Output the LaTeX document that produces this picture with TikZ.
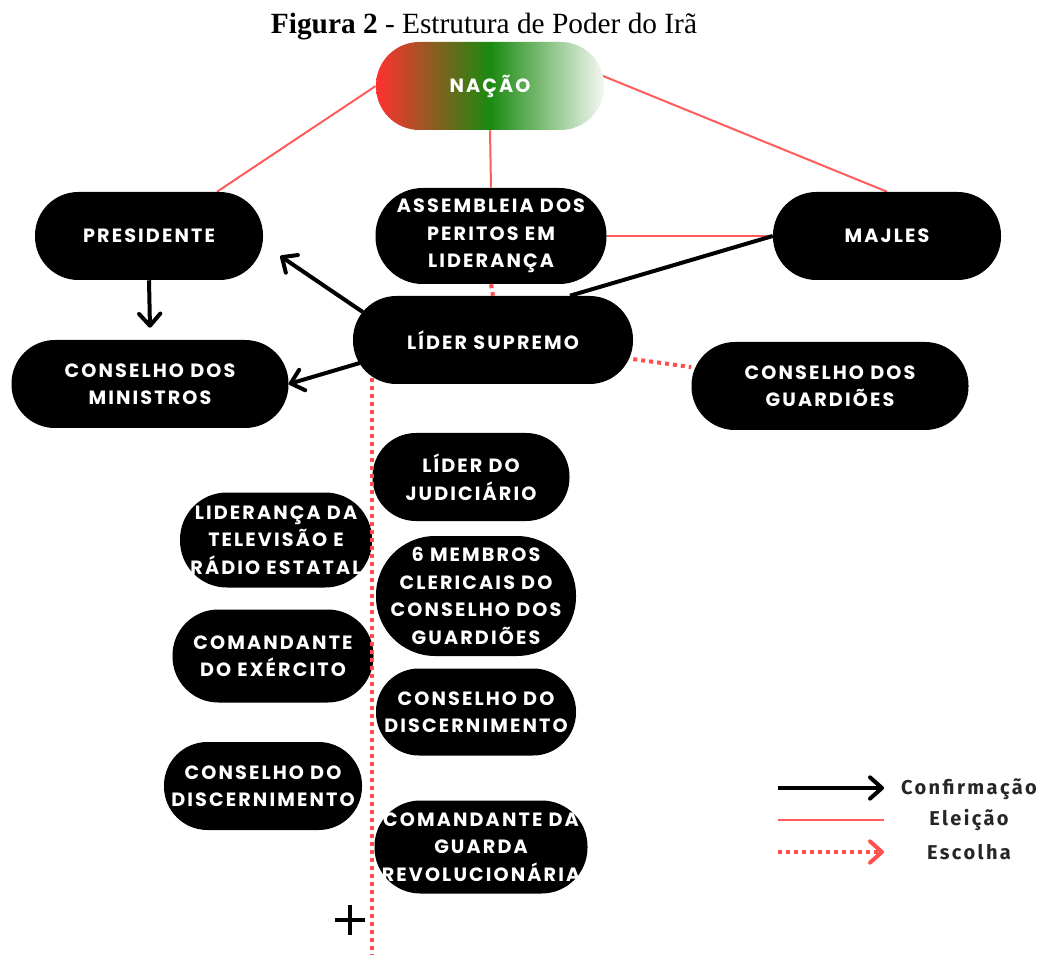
\documentclass[tikz,border=0pt]{standalone}
\usepackage{fontspec}
\setmainfont{Liberation Serif}
\newfontfamily\boxfont[LetterSpace=11]{Poppins}
\newfontfamily\legfont[LetterSpace=12]{Fira Sans}
\usetikzlibrary{arrows.meta,backgrounds}
\definecolor{elecred}{RGB}{255,92,92}
\definecolor{dotred}{RGB}{255,80,80}
\definecolor{nred}{RGB}{255,48,48}
\definecolor{ngreen}{RGB}{26,138,16}
\definecolor{nwhite}{RGB}{244,248,242}
\tikzset{
  pill/.style 2 args={fill=black, text=white, font=\boxfont\bfseries\fontsize{14.4}{20.6}\selectfont,
    align=center, inner sep=0pt, minimum width=#1*0.75pt, minimum height=#2*0.75pt,
    rounded corners=#2*0.37pt},
  eleicao/.style={draw=elecred, line width=1.5pt},
  escolha/.style={draw=dotred, line width=3pt, dash pattern=on 3pt off 3pt},
  confirm/.style={draw=black, line width=3pt, -{Straight Barb[length=9pt,width=16pt,round]}},
  legtext/.style={font=\legfont\bfseries\fontsize{15}{17}\selectfont, text=black!85, anchor=center},
}
\begin{document}
\begin{tikzpicture}[x=0.75pt,y=-0.75pt]
\useasboundingbox (0,0) rectangle (1046,955);

% title
\node[font=\fontsize{22}{24}\selectfont, anchor=center] (title) at (484,27) {\textbf{Figura 2} - Estrutura de Poder do Irã};

% nodes
\node[pill={228}{88}, fill=none, left color=nred, right color=nwhite, middle color=ngreen, text=white] (nacao) at (490,86) {NAÇÃO};
\node[pill={228}{88}] (pres) at (149,236) {PRESIDENTE};
\node[pill={231}{96}] (asm) at (491,236) {ASSEMBLEIA DOS\\PERITOS EM\\LIDERANÇA};
\node[pill={228}{88}] (maj) at (887,236) {MAJLES};
\node[pill={280}{88}] (lider) at (493,340) {LÍDER SUPREMO};
\node[pill={277}{88}] (min) at (150,384) {CONSELHO DOS\\MINISTROS};
\node[pill={277}{88}] (guard) at (830,386) {CONSELHO DOS\\GUARDIÕES};
\node[pill={197}{88}] (jud) at (471,477) {LÍDER DO\\JUDICIÁRIO};
\node[pill={200}{120}] (membros) at (476,596) {6 MEMBROS\\CLERICAIS DO\\CONSELHO DOS\\GUARDIÕES};
\node[pill={200}{87}] (discR) at (476,712) {CONSELHO DO\\DISCERNIMENTO};
\node[pill={213}{93}] (guarda) at (481,847) {COMANDANTE DA\\GUARDA\\REVOLUCIONÁRIA};
\node[pill={192}{95}] (tv) at (276,540) {LIDERANÇA DA\\TELEVISÃO E\\RÁDIO ESTATAL};
\node[pill={201}{93}] (exerc) at (273,656) {COMANDANTE\\DO EXÉRCITO};
\node[pill={198}{88}] (discL) at (263,786) {CONSELHO DO\\DISCERNIMENTO};

% background connectors
\begin{pgfonlayer}{background}
  \fill[white] (0,0) rectangle (1046,955);
  \draw[eleicao] (nacao.west) -- ([shift={(68,0)}]pres.north);
  \draw[eleicao] (nacao.south) -- (asm.north);
  \draw[eleicao] ([shift={(-11,-14)}]nacao.east) -- (maj.north);
  \draw[eleicao] (asm.east) -- (maj.west);
  \draw[escolha] (lider) -- (guard);
\end{pgfonlayer}

\draw[draw=black, line width=3pt] (maj.west) -- ([shift={(77,0)}]lider.north);
\draw[escolha] (asm.south) -- (lider.north);
\draw[confirm] ([shift={(10,-28)}]lider.west) -- ([shift={(17,20)}]pres.east);
\draw[confirm] ([shift={(7,23)}]lider.west) -- (min.east);
\draw[confirm] (pres.south) -- ([shift={(0,-12)}]min.north);

% vertical choice line
\coordinate (vend) at (372,955);
\draw[escolha] ([shift={(-121,-6)}]lider.south) -- (vend);

% plus sign
\draw[line width=2.3pt] (335,920) -- (365,920) (350,905) -- (350,935);

% legend
\coordinate (l1a) at (778,788); \coordinate (l1b) at (884,788);
\coordinate (l2a) at (778,820); \coordinate (l2b) at (884,820);
\coordinate (l3a) at (778,852); \coordinate (l3b) at (884,852);
\draw[confirm] (l1a) -- (l1b);
\draw[eleicao] (l2a) -- (l2b);
\draw[escolha, -{Straight Barb[length=9pt,width=16pt,round,color=dotred]}] (l3a) -- (l3b);
\node[legtext] (t1) at (969,789) {Confirmação};
\node[legtext] (t2) at (969,820) {Eleição};
\node[legtext] (t3) at (969,852) {Escolha};
\end{tikzpicture}
\end{document}
